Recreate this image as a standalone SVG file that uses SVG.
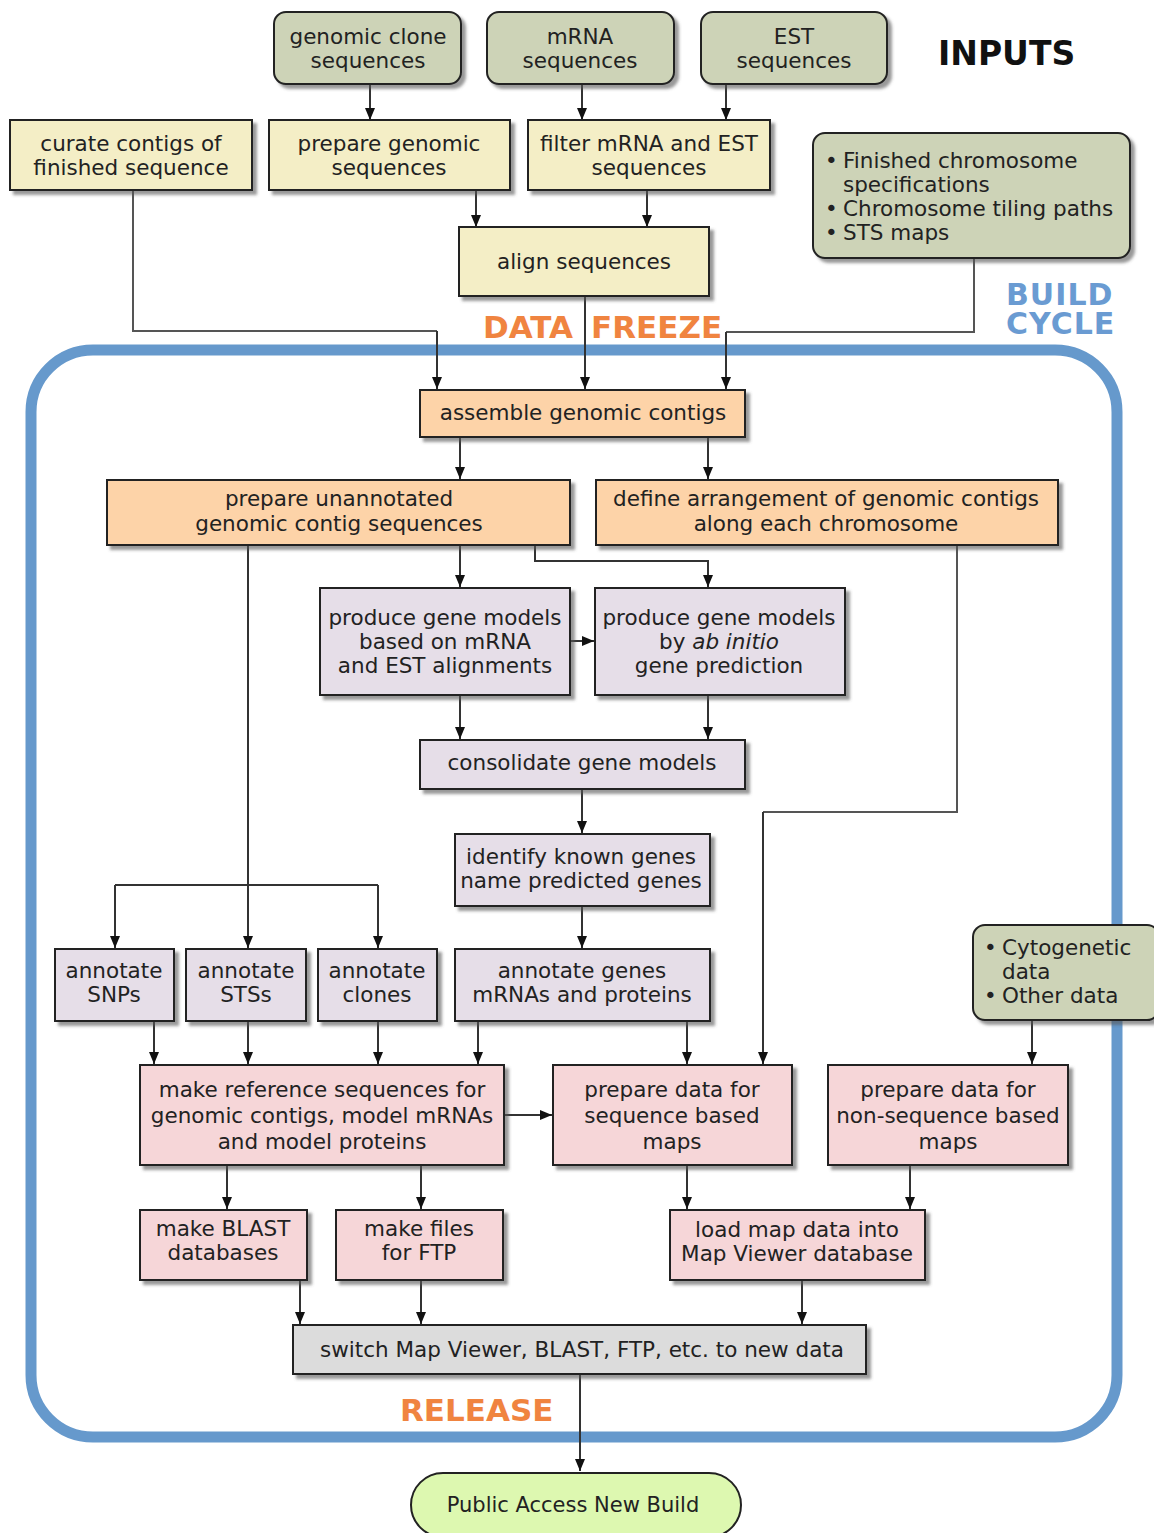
<svg xmlns="http://www.w3.org/2000/svg" width="1154" height="1533" viewBox="0 0 1154 1533">
<style>
text{font-family:"DejaVu Sans","Verdana",sans-serif;font-size:21.5px;fill:#222;text-anchor:middle}
.lbl{font-weight:bold;text-anchor:start}
.bul{text-anchor:start}
.box{stroke:#222;stroke-width:2;filter:url(#sh)}
.in{fill:#cdd3b7}
.ye{fill:#f4eec6}
.or{fill:#fdd3a8}
.la{fill:#e6dee8}
.pk{fill:#f6d6d8}
.gr{fill:#dcdcdc}
.c{fill:none;stroke:#333;stroke-width:2;marker-end:url(#ah)}
.cn{fill:none;stroke:#333;stroke-width:2}
.cg{fill:none;stroke:#555;stroke-width:2}
</style>
<defs>
<filter id="sh" x="-5%" y="-5%" width="115%" height="130%">
<feDropShadow dx="4" dy="4" stdDeviation="1.5" flood-color="#555" flood-opacity="0.6"/>
</filter>
<marker id="ah" viewBox="0 0 12 10" markerWidth="12" markerHeight="11" refX="12" refY="5" orient="auto" markerUnits="userSpaceOnUse">
<path d="M0,0 L12,5 L0,10 z" fill="#111"/>
</marker>
</defs>
<rect x="0" y="0" width="1154" height="1533" fill="#fff"/>

<rect id="build-cycle" x="31" y="350" width="1086" height="1087" rx="62" fill="none" stroke="#6699cc" stroke-width="11"/>

<g id="labels">
<text class="lbl" x="938" y="65" style="font-size:33px;fill:#111">INPUTS</text>
<text class="lbl" x="1006" y="305" style="font-size:30px;fill:#6a9bd2;letter-spacing:1px">BUILD</text>
<text class="lbl" x="1006" y="334" style="font-size:30px;fill:#6a9bd2;letter-spacing:1px">CYCLE</text>
<text class="lbl" x="483" y="338" style="font-size:31px;fill:#f08440">DATA</text>
<text class="lbl" x="591" y="338" style="font-size:31px;fill:#f08440">FREEZE</text>
<text class="lbl" x="400" y="1421" style="font-size:31px;fill:#f08440">RELEASE</text>
</g>

<g id="connectors">
<path class="c" d="M370,84 V120"/>
<path class="c" d="M582,84 V120"/>
<path class="c" d="M726,84 V120"/>
<path class="c" d="M476,190 V227"/>
<path class="c" d="M647,190 V227"/>
<path class="cg" d="M133,190 V331 H437"/>
<path class="c" d="M437,331 V389"/>
<path class="c" d="M585,296 V389"/>
<path class="cg" d="M974,258 V332 H726"/>
<path class="c" d="M726,332 V389"/>
<path class="c" d="M460,437 V479"/>
<path class="c" d="M708,437 V479"/>
<path class="c" d="M460,545 V587"/>
<path class="c" d="M535,545 V561 H708 V587"/>
<path class="c" d="M570,641 H594"/>
<path class="c" d="M248,545 V948"/>
<path class="cn" d="M115,885 H378"/>
<path class="c" d="M115,885 V948"/>
<path class="c" d="M378,885 V948"/>
<path class="cg" d="M957,545 V812 H763"/>
<path class="c" d="M763,812 V1064"/>
<path class="c" d="M460,695 V739"/>
<path class="c" d="M708,695 V739"/>
<path class="c" d="M582,789 V833"/>
<path class="c" d="M582,906 V948"/>
<path class="c" d="M154,1021 V1064"/>
<path class="c" d="M248,1021 V1064"/>
<path class="c" d="M378,1021 V1064"/>
<path class="c" d="M478,1021 V1064"/>
<path class="c" d="M687,1021 V1064"/>
<path class="c" d="M1032,1020 V1064"/>
<path class="c" d="M504,1115 H552"/>
<path class="c" d="M227,1165 V1209"/>
<path class="c" d="M421,1165 V1209"/>
<path class="c" d="M687,1165 V1209"/>
<path class="c" d="M910,1165 V1209"/>
<path class="c" d="M300,1280 V1324"/>
<path class="c" d="M421,1280 V1324"/>
<path class="c" d="M802,1280 V1324"/>
<path class="c" d="M580,1374 V1471"/>
</g>

<g id="genomic-clone-sequences">
<rect class="box in" x="274" y="12" width="187" height="72" rx="12"/>
<text x="368" y="43.5">genomic clone</text>
<text x="368" y="67.5">sequences</text>
</g>
<g id="mrna-sequences">
<rect class="box in" x="487" y="12" width="187" height="72" rx="12"/>
<text x="580" y="43.5">mRNA</text>
<text x="580" y="67.5">sequences</text>
</g>
<g id="est-sequences">
<rect class="box in" x="701" y="12" width="186" height="72" rx="12"/>
<text x="794" y="43.5">EST</text>
<text x="794" y="67.5">sequences</text>
</g>

<g id="curate-contigs">
<rect class="box ye" x="10" y="120" width="242" height="70"/>
<text x="131" y="151">curate contigs of</text>
<text x="131" y="175">finished sequence</text>
</g>
<g id="prepare-genomic">
<rect class="box ye" x="269" y="120" width="241" height="70"/>
<text x="389" y="151">prepare genomic</text>
<text x="389" y="175">sequences</text>
</g>
<g id="filter-mrna-est">
<rect class="box ye" x="528" y="120" width="242" height="70"/>
<text x="649" y="151">filter mRNA and EST</text>
<text x="649" y="175">sequences</text>
</g>
<g id="align-sequences">
<rect class="box ye" x="459" y="227" width="250" height="69"/>
<text x="584" y="269">align sequences</text>
</g>

<g id="chromosome-specs">
<rect class="box in" x="813" y="133" width="317" height="125" rx="12"/>
<text class="bul" x="825" y="167.5">•</text><text class="bul" x="843" y="167.5">Finished chromosome</text>
<text class="bul" x="843" y="191.5">specifications</text>
<text class="bul" x="825" y="215.5">•</text><text class="bul" x="843" y="215.5">Chromosome tiling paths</text>
<text class="bul" x="825" y="239.5">•</text><text class="bul" x="843" y="239.5">STS maps</text>
</g>

<g id="assemble-genomic-contigs">
<rect class="box or" x="420" y="390" width="325" height="47"/>
<text x="583" y="419.5">assemble genomic contigs</text>
</g>
<g id="prepare-unannotated">
<rect class="box or" x="107" y="480" width="463" height="65"/>
<text x="339" y="506">prepare unannotated</text>
<text x="339" y="531">genomic contig sequences</text>
</g>
<g id="define-arrangement">
<rect class="box or" x="596" y="480" width="462" height="65"/>
<text x="826" y="506">define arrangement of genomic contigs</text>
<text x="826" y="531">along each chromosome</text>
</g>

<g id="gene-models-mrna">
<rect class="box la" x="320" y="588" width="250" height="107"/>
<text x="445" y="625">produce gene models</text>
<text x="445" y="649">based on mRNA</text>
<text x="445" y="673">and EST alignments</text>
</g>
<g id="gene-models-ab-initio">
<rect class="box la" x="595" y="588" width="250" height="107"/>
<text x="719" y="625">produce gene models</text>
<text x="719" y="649">by <tspan font-style="italic">ab initio</tspan></text>
<text x="719" y="673">gene prediction</text>
</g>
<g id="consolidate-gene-models">
<rect class="box la" x="420" y="740" width="325" height="49"/>
<text x="582" y="770">consolidate gene models</text>
</g>
<g id="identify-known-genes">
<rect class="box la" x="455" y="834" width="255" height="72"/>
<text x="581" y="864">identify known genes</text>
<text x="581" y="888">name predicted genes</text>
</g>
<g id="annotate-snps">
<rect class="box la" x="55" y="949" width="119" height="72"/>
<text x="114" y="978">annotate</text>
<text x="114" y="1002">SNPs</text>
</g>
<g id="annotate-stss">
<rect class="box la" x="186" y="949" width="120" height="72"/>
<text x="246" y="978">annotate</text>
<text x="246" y="1002">STSs</text>
</g>
<g id="annotate-clones">
<rect class="box la" x="318" y="949" width="119" height="72"/>
<text x="377" y="978">annotate</text>
<text x="377" y="1002">clones</text>
</g>
<g id="annotate-genes">
<rect class="box la" x="455" y="949" width="255" height="72"/>
<text x="582" y="978">annotate genes</text>
<text x="582" y="1002">mRNAs and proteins</text>
</g>

<g id="cytogenetic-data">
<rect class="box in" x="973" y="925" width="186" height="95" rx="12"/>
<text class="bul" x="984" y="955">•</text><text class="bul" x="1002" y="955">Cytogenetic</text>
<text class="bul" x="1002" y="979">data</text>
<text class="bul" x="984" y="1003">•</text><text class="bul" x="1002" y="1003">Other data</text>
</g>

<g id="make-reference-sequences">
<rect class="box pk" x="140" y="1065" width="364" height="100"/>
<text x="322" y="1097">make reference sequences for</text>
<text x="322" y="1123">genomic contigs, model mRNAs</text>
<text x="322" y="1149">and model proteins</text>
</g>
<g id="prepare-sequence-maps">
<rect class="box pk" x="553" y="1065" width="239" height="100"/>
<text x="672" y="1097">prepare data for</text>
<text x="672" y="1123">sequence based</text>
<text x="672" y="1149">maps</text>
</g>
<g id="prepare-nonsequence-maps">
<rect class="box pk" x="828" y="1065" width="240" height="100"/>
<text x="948" y="1097">prepare data for</text>
<text x="948" y="1123">non-sequence based</text>
<text x="948" y="1149">maps</text>
</g>
<g id="make-blast">
<rect class="box pk" x="140" y="1210" width="167" height="70"/>
<text x="223" y="1236">make BLAST</text>
<text x="223" y="1260">databases</text>
</g>
<g id="make-ftp">
<rect class="box pk" x="336" y="1210" width="167" height="70"/>
<text x="419" y="1236">make files</text>
<text x="419" y="1260">for FTP</text>
</g>
<g id="load-map-data">
<rect class="box pk" x="670" y="1210" width="255" height="70"/>
<text x="797" y="1237">load map data into</text>
<text x="797" y="1261">Map Viewer database</text>
</g>
<g id="switch">
<rect class="box gr" x="293" y="1325" width="573" height="49"/>
<text x="582" y="1357">switch Map Viewer, BLAST, FTP, etc. to new data</text>
</g>
<g id="public-access">
<rect x="411" y="1473" width="330" height="64" rx="32" fill="#ddf8b0" stroke="#222" stroke-width="2"/>
<text x="573" y="1512" style="font-size:21px">Public Access New Build</text>
</g>
</svg>
